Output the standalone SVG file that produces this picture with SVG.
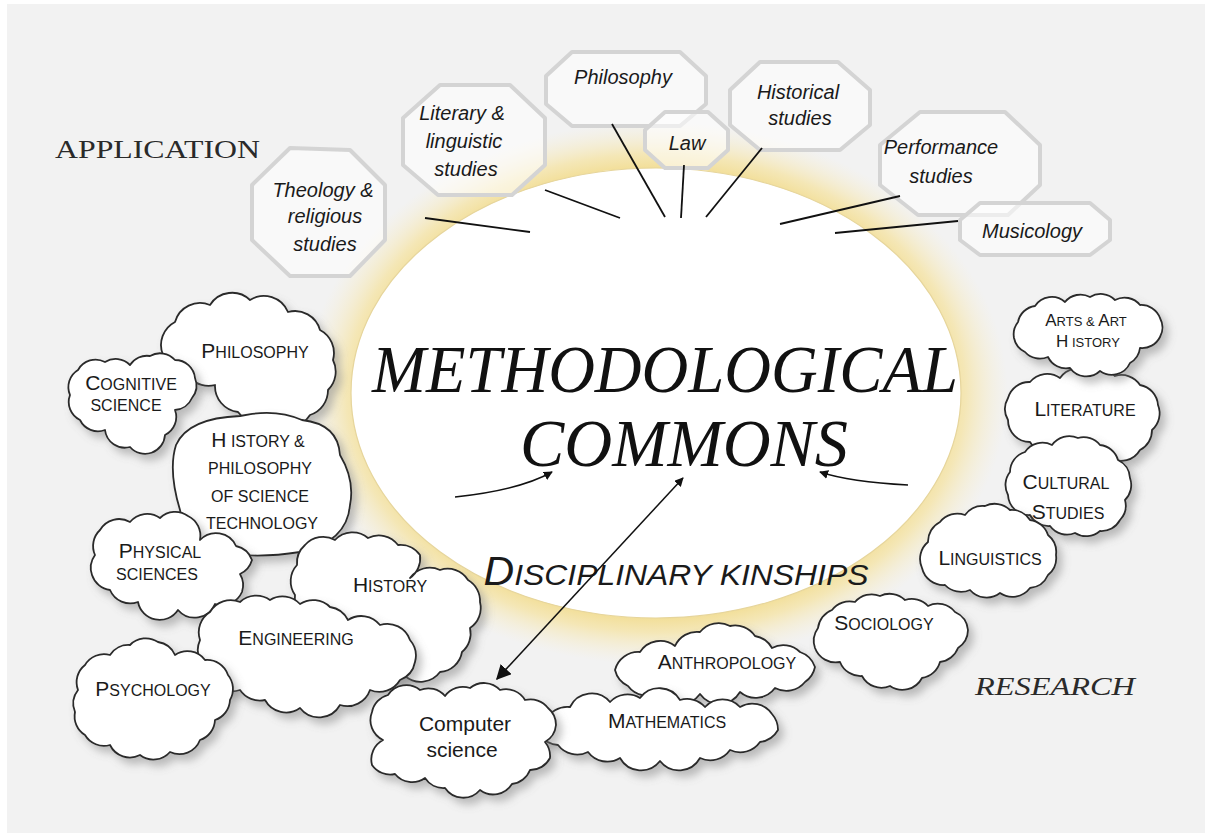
<svg xmlns="http://www.w3.org/2000/svg" width="1205" height="833" viewBox="0 0 1205 833">
<defs>
<style>
.cl{fill:#fff;stroke:#2a2a2a;stroke-width:1.8;stroke-linejoin:round;filter:url(#sh)}
.oc{fill:#fff;fill-opacity:.55;stroke:#d4d4d4;stroke-width:4;stroke-linejoin:round}
.t{font-family:"Liberation Sans",Arial,sans-serif;fill:#1a1a1a;text-anchor:middle}
.i{font-style:italic;font-size:20px}
.b{font-size:21px}
.s{font-size:16px}
.bb{font-size:17px}
.ss{font-size:13px}
.ln{stroke:#111;stroke-width:1.8;fill:none}
.ar{stroke:#111;stroke-width:1.5;fill:none}
.big{font-family:"Liberation Serif","Times New Roman",serif;font-style:italic;fill:#111;text-anchor:middle}
.lab{font-family:"Liberation Serif","Times New Roman",serif;fill:#2a2a2a;font-size:26px}
</style>
<filter id="sh" x="-20%" y="-20%" width="150%" height="150%">
<feDropShadow dx="5" dy="6" stdDeviation="4" flood-color="#777" flood-opacity="0.45"/>
</filter>
<radialGradient id="halo" cx="0.5" cy="0.5" r="0.5">
<stop offset="0.78" stop-color="#f0d67a" stop-opacity="1"/>
<stop offset="0.88" stop-color="#f5e3a2" stop-opacity="0.75"/>
<stop offset="1" stop-color="#f8efcf" stop-opacity="0"/>
</radialGradient>
<marker id="ah" viewBox="0 0 10 10" refX="9" refY="5" markerWidth="9" markerHeight="9" markerUnits="userSpaceOnUse" orient="auto-start-reverse">
<path d="M0,0 L10,5 L0,10 Z" fill="#111"/>
</marker>
<marker id="ah2" viewBox="0 0 10 10" refX="9" refY="5" markerWidth="15" markerHeight="15" markerUnits="userSpaceOnUse" orient="auto-start-reverse">
<path d="M0,0 L10,5 L0,10 Z" fill="#111"/>
</marker>
</defs>
<rect width="1205" height="833" fill="#fff"/>
<rect x="7" y="4" width="1198" height="829" fill="#f2f2f2"/>

<g id="commons">
<ellipse cx="656" cy="393" rx="352" ry="272" fill="url(#halo)"/>
<ellipse cx="656" cy="393" rx="305" ry="225" fill="#fff" stroke="#e6d59c" stroke-width="1.2"/>
<text class="big" x="665" y="392" font-size="68" textLength="586" lengthAdjust="spacingAndGlyphs">METHODOLOGICAL</text>
<text class="big" x="684" y="466" font-size="68" textLength="328" lengthAdjust="spacingAndGlyphs">COMMONS</text>
<text class="t" x="676" y="585" font-style="italic" textLength="385" lengthAdjust="spacingAndGlyphs"><tspan font-size="40">D</tspan><tspan font-size="30">ISCIPLINARY KINSHIPS</tspan></text>
</g>

<text class="lab" x="55" y="158" textLength="205" lengthAdjust="spacingAndGlyphs">APPLICATION</text>
<text class="lab" x="975" y="695" font-style="italic" textLength="160" lengthAdjust="spacingAndGlyphs">RESEARCH</text>

<g id="o-theology">
<polygon class="oc" points="290,148 350,150 385,185 385,240 350,276 290,276 252,240 252,185"/>
<text class="t i" x="323" y="197">Theology &amp;</text>
<text class="t i" x="325" y="223">religious</text>
<text class="t i" x="325" y="251">studies</text>
</g>
<g id="o-literary">
<polygon class="oc" points="440,85 510,85 545,118 545,165 512,195 438,195 403,165 403,118"/>
<text class="t i" x="462" y="120">Literary &amp;</text>
<text class="t i" x="464" y="148">linguistic</text>
<text class="t i" x="466" y="176">studies</text>
</g>
<g id="o-philosophy">
<polygon class="oc" points="572,52 680,52 706,76 706,104 680,126 572,126 546,104 546,76"/>
<text class="t i" x="623" y="84">Philosophy</text>
</g>
<g id="o-law">
<polygon class="oc" points="665,112 708,112 728,130 728,150 708,168 665,168 645,150 645,130"/>
<text class="t i" x="687" y="150">Law</text>
</g>
<g id="o-historical">
<polygon class="oc" points="760,62 838,62 870,90 870,125 840,150 760,150 730,125 730,90"/>
<text class="t i" x="798" y="99">Historical</text>
<text class="t i" x="800" y="125">studies</text>
</g>
<g id="o-performance">
<polygon class="oc" points="920,112 1005,112 1040,145 1040,185 1008,215 918,215 880,185 880,145"/>
<text class="t i" x="941" y="154">Performance</text>
<text class="t i" x="941" y="183">studies</text>
</g>
<g id="o-musicology">
<polygon class="oc" points="980,203 1090,203 1110,220 1110,240 1090,255 980,255 960,240 960,220"/>
<text class="t i" x="1032" y="238">Musicology</text>
</g>

<g id="connectors">
<line class="ln" x1="425" y1="218" x2="530" y2="232"/>
<line class="ln" x1="545" y1="190" x2="620" y2="218"/>
<line class="ln" x1="612" y1="124" x2="665" y2="217"/>
<line class="ln" x1="684" y1="165" x2="681" y2="218"/>
<line class="ln" x1="762" y1="148" x2="706" y2="217"/>
<line class="ln" x1="900" y1="196" x2="780" y2="224"/>
<line class="ln" x1="958" y1="221" x2="835" y2="233"/>
<path class="ar" d="M455,497 Q520,490 552,472" marker-end="url(#ah)"/>
<path class="ar" d="M908,485 Q850,482 820,472" marker-end="url(#ah)"/>
</g>

<g id="c-philosophy">
<path class="cl" d="M163,355 A26 26 0 0 1 175,322 A26 26 0 0 1 210,305 A26 26 0 0 1 250,300 A26 26 0 0 1 288,312 A26 26 0 0 1 320,330 A26 26 0 0 1 333,360 A26 26 0 0 1 328,390 A26 26 0 0 1 310,415 A26 26 0 0 1 270,420 A26 26 0 0 1 238,412 A26 26 0 0 1 215,385 A26 26 0 0 1 190,378 A26 26 0 0 1 163,355 Z"/>
<text class="t" x="255" y="358"><tspan class="b">P</tspan><tspan class="s">HILOSOPHY</tspan></text>
</g>
<g id="c-cognitive">
<path class="cl" d="M70,395 A20 20 0 0 1 78,370 A20 20 0 0 1 105,362 A20 20 0 0 1 130,365 A20 20 0 0 1 150,356 A20 20 0 0 1 175,360 A20 20 0 0 1 195,378 A20 20 0 0 1 192,398 A20 20 0 0 1 175,410 A20 20 0 0 1 165,435 A20 20 0 0 1 130,447 A20 20 0 0 1 105,430 A20 20 0 0 1 80,420 A20 20 0 0 1 70,395 Z"/>
<text class="t" x="131" y="390"><tspan class="b">C</tspan><tspan class="s">OGNITIVE</tspan></text>
<text class="t s" x="126" y="411">SCIENCE</text>
</g>
<g id="c-hps">
<path class="cl" d="M176,445 Q188,418 240,416 Q275,408 302,420 Q338,424 340,455 Q355,480 350,505 Q347,542 300,552 Q250,560 210,550 Q185,542 180,510 Q168,470 176,445 Z"/>
<text class="t" x="258" y="447"><tspan class="b">H</tspan><tspan class="s"> ISTORY &amp;</tspan></text>
<text class="t s" x="260" y="474">PHILOSOPHY</text>
<text class="t s" x="260" y="502">OF SCIENCE</text>
<text class="t s" x="262" y="529">TECHNOLOGY</text>
</g>
<g id="c-physical">
<path class="cl" d="M95,555 A22 22 0 0 1 100,530 A22 22 0 0 1 130,522 A22 22 0 0 1 160,518 A22 22 0 0 1 188,516 A22 22 0 0 1 200,540 A22 22 0 0 1 236,546 A22 22 0 0 1 252,560 A22 22 0 0 1 240,574 A22 22 0 0 1 242,592 A22 22 0 0 1 215,604 A22 22 0 0 1 178,610 A22 22 0 0 1 138,602 A22 22 0 0 1 110,590 A22 22 0 0 1 92,575 A22 22 0 0 1 95,555 Z"/>
<text class="t" x="160" y="558"><tspan class="b">P</tspan><tspan class="s">HYSICAL</tspan></text>
<text class="t s" x="157" y="580">SCIENCES</text>
</g>
<g id="c-history">
<path class="cl" d="M297,565 A24 24 0 0 1 305,545 A24 24 0 0 1 335,540 A24 24 0 0 1 368,538 A24 24 0 0 1 398,545 A24 24 0 0 1 420,555 A24 24 0 0 1 410,578 A24 24 0 0 1 440,570 A24 24 0 0 1 468,580 A24 24 0 0 1 480,602 A24 24 0 0 1 470,628 A24 24 0 0 1 462,652 A24 24 0 0 1 440,672 A24 24 0 0 1 405,676 A24 24 0 0 1 370,665 A24 24 0 0 1 340,650 A24 24 0 0 1 310,620 A24 24 0 0 1 295,595 A24 24 0 0 1 297,565 Z"/>
<text class="t" x="390" y="592"><tspan class="b">H</tspan><tspan class="s">ISTORY</tspan></text>
</g>
<g id="c-engineering">
<path class="cl" d="M200,640 A24 24 0 0 1 210,612 A24 24 0 0 1 240,602 A24 24 0 0 1 270,600 A24 24 0 0 1 300,604 A24 24 0 0 1 330,607 A24 24 0 0 1 348,620 A24 24 0 0 1 380,625 A24 24 0 0 1 410,640 A24 24 0 0 1 415,662 A24 24 0 0 1 400,680 A24 24 0 0 1 370,690 A24 24 0 0 1 340,705 A24 24 0 0 1 300,708 A24 24 0 0 1 265,700 A24 24 0 0 1 240,690 A24 24 0 0 1 210,676 A24 24 0 0 1 200,660 A24 24 0 0 1 200,640 Z"/>
<text class="t" x="296" y="645"><tspan class="b">E</tspan><tspan class="s">NGINEERING</tspan></text>
</g>
<g id="c-psychology">
<path class="cl" d="M78,690 A22 22 0 0 1 85,665 A22 22 0 0 1 110,655 A22 22 0 0 1 130,645 A22 22 0 0 1 158,642 A22 22 0 0 1 175,655 A22 22 0 0 1 205,660 A22 22 0 0 1 228,675 A22 22 0 0 1 230,700 A22 22 0 0 1 215,720 A22 22 0 0 1 200,740 A22 22 0 0 1 170,752 A22 22 0 0 1 140,755 A22 22 0 0 1 110,745 A22 22 0 0 1 85,735 A22 22 0 0 1 75,712 A22 22 0 0 1 78,690 Z"/>
<text class="t" x="153" y="696"><tspan class="b">P</tspan><tspan class="s">SYCHOLOGY</tspan></text>
</g>
<g id="c-anthropology">
<path class="cl" d="M615,670 A24 24 0 0 1 640,652 A24 24 0 0 1 675,646 A24 24 0 0 1 700,632 A24 24 0 0 1 730,626 A24 24 0 0 1 755,636 A24 24 0 0 1 772,648 A24 24 0 0 1 800,652 A24 24 0 0 1 815,667 A24 24 0 0 1 805,682 A24 24 0 0 1 775,688 A24 24 0 0 1 740,692 A24 24 0 0 1 700,694 A24 24 0 0 1 660,692 A24 24 0 0 1 628,686 A24 24 0 0 1 615,670 Z"/>
<text class="t" x="727" y="669"><tspan class="b">A</tspan><tspan class="s">NTHROPOLOGY</tspan></text>
</g>
<g id="c-mathematics">
<path class="cl" d="M545,722 A24 24 0 0 1 570,707 A24 24 0 0 1 610,702 A24 24 0 0 1 640,698 A24 24 0 0 1 680,700 A24 24 0 0 1 705,707 A24 24 0 0 1 740,707 A24 24 0 0 1 772,714 A24 24 0 0 1 778,730 A24 24 0 0 1 760,742 A24 24 0 0 1 730,750 A24 24 0 0 1 700,758 A24 24 0 0 1 660,761 A24 24 0 0 1 620,758 A24 24 0 0 1 588,752 A24 24 0 0 1 558,745 A24 24 0 0 1 540,735 A24 24 0 0 1 545,722 Z"/>
<text class="t" x="667" y="728"><tspan class="b">M</tspan><tspan class="s">ATHEMATICS</tspan></text>
</g>
<g id="c-computer">
<path class="cl" d="M372,712 A22 22 0 0 1 388,695 A22 22 0 0 1 420,690 A22 22 0 0 1 445,696 A22 22 0 0 1 470,688 A22 22 0 0 1 500,690 A22 22 0 0 1 525,700 A22 22 0 0 1 548,708 A22 22 0 0 1 556,725 A22 22 0 0 1 545,742 A22 22 0 0 1 550,758 A22 22 0 0 1 530,770 A22 22 0 0 1 512,784 A22 22 0 0 1 480,790 A22 22 0 0 1 445,788 A22 22 0 0 1 425,778 A22 22 0 0 1 395,774 A22 22 0 0 1 372,765 A22 22 0 0 1 383,740 A22 22 0 0 1 372,712 Z"/>
<text class="t" x="465" y="731" font-size="21">Computer</text>
<text class="t" x="462" y="757" font-size="21">science</text>
</g>
<g id="c-sociology">
<path class="cl" d="M818,628 A22 22 0 0 1 832,610 A22 22 0 0 1 855,602 A22 22 0 0 1 880,596 A22 22 0 0 1 905,600 A22 22 0 0 1 928,606 A22 22 0 0 1 955,612 A22 22 0 0 1 968,630 A22 22 0 0 1 958,648 A22 22 0 0 1 940,662 A22 22 0 0 1 922,678 A22 22 0 0 1 890,686 A22 22 0 0 1 862,676 A22 22 0 0 1 840,662 A22 22 0 0 1 815,648 A22 22 0 0 1 818,628 Z"/>
<text class="t" x="884" y="630"><tspan class="b">S</tspan><tspan class="s">OCIOLOGY</tspan></text>
</g>
<g id="c-literature">
<path class="cl" d="M1008,398 A22 22 0 0 1 1030,382 A22 22 0 0 1 1060,378 A22 22 0 0 1 1090,372 A22 22 0 0 1 1115,376 A22 22 0 0 1 1140,385 A22 22 0 0 1 1158,405 A22 22 0 0 1 1152,430 A22 22 0 0 1 1140,450 A22 22 0 0 1 1110,458 A22 22 0 0 1 1080,461 A22 22 0 0 1 1055,452 A22 22 0 0 1 1030,442 A22 22 0 0 1 1008,420 A22 22 0 0 1 1008,398 Z"/>
<text class="t" x="1085" y="416"><tspan class="b">L</tspan><tspan class="s">ITERATURE</tspan></text>
</g>
<g id="c-cultural">
<path class="cl" d="M1010,472 A21 21 0 0 1 1025,452 A21 21 0 0 1 1052,445 A21 21 0 0 1 1078,438 A21 21 0 0 1 1100,445 A21 21 0 0 1 1118,460 A21 21 0 0 1 1130,478 A21 21 0 0 1 1125,500 A21 21 0 0 1 1120,520 A21 21 0 0 1 1100,531 A21 21 0 0 1 1075,533 A21 21 0 0 1 1050,526 A21 21 0 0 1 1030,515 A21 21 0 0 1 1008,495 A21 21 0 0 1 1010,472 Z"/>
<text class="t" x="1066" y="489"><tspan class="b">C</tspan><tspan class="s">ULTURAL</tspan></text>
<text class="t" x="1068" y="519"><tspan class="b">S</tspan><tspan class="s">TUDIES</tspan></text>
</g>
<g id="c-linguistics">
<path class="cl" d="M928,542 A22 22 0 0 1 940,522 A22 22 0 0 1 965,515 A22 22 0 0 1 985,506 A22 22 0 0 1 1010,510 A22 22 0 0 1 1030,520 A22 22 0 0 1 1048,535 A22 22 0 0 1 1056,555 A22 22 0 0 1 1048,575 A22 22 0 0 1 1030,588 A22 22 0 0 1 1000,593 A22 22 0 0 1 970,590 A22 22 0 0 1 945,585 A22 22 0 0 1 922,568 A22 22 0 0 1 928,542 Z"/>
<text class="t" x="990" y="565"><tspan class="b">L</tspan><tspan class="s">INGUISTICS</tspan></text>
</g>
<g id="c-arts">
<path class="cl" d="M1018,322 A20 20 0 0 1 1035,306 A20 20 0 0 1 1065,302 A20 20 0 0 1 1090,297 A20 20 0 0 1 1115,300 A20 20 0 0 1 1140,305 A20 20 0 0 1 1160,318 A20 20 0 0 1 1160,337 A20 20 0 0 1 1140,348 A20 20 0 0 1 1130,363 A20 20 0 0 1 1100,371 A20 20 0 0 1 1070,368 A20 20 0 0 1 1048,357 A20 20 0 0 1 1025,352 A20 20 0 0 1 1014,338 A20 20 0 0 1 1018,322 Z"/>
<text class="t" x="1086" y="326"><tspan class="bb">A</tspan><tspan class="ss">RTS &amp; </tspan><tspan class="bb">A</tspan><tspan class="ss">RT</tspan></text>
<text class="t" x="1088" y="347"><tspan class="bb">H</tspan><tspan class="ss"> ISTORY</tspan></text>
</g>

<g id="connector-kinship">
<line class="ar" x1="497" y1="679" x2="683" y2="478" marker-start="url(#ah2)" marker-end="url(#ah)"/>
</g>
</svg>
